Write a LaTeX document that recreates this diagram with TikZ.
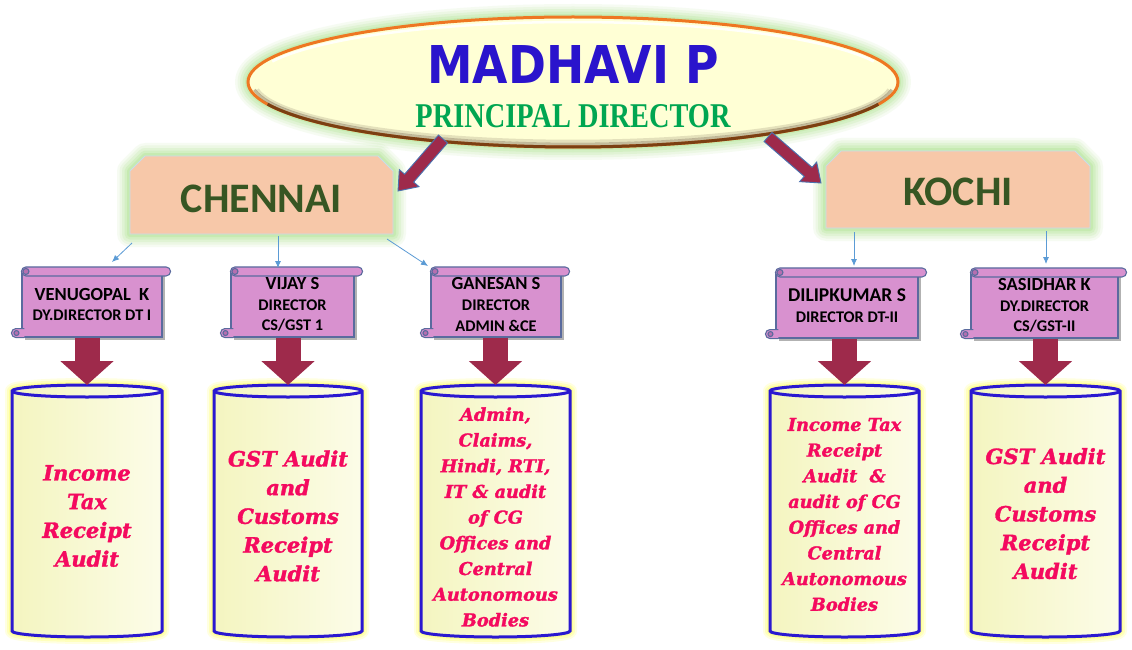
\documentclass[tikz,border=0pt]{standalone}
\usepackage{fontspec}
\setmainfont{Liberation Serif}
\newfontfamily\carl{Carlito}
\newfontfamily\dvs{DejaVu Sans}
\newfontfamily\dvserif[BoldItalicFeatures={FakeBold=1.6}]{DejaVu Serif}
\usetikzlibrary{shapes.geometric,shapes.misc,arrows.meta,calc}
\definecolor{maroonA}{HTML}{9E2A4B}
\definecolor{arrline}{HTML}{4A72B0}
\definecolor{scrollpink}{HTML}{D891CF}
\definecolor{curlpink}{HTML}{B56FB0}
\definecolor{scrollline}{HTML}{5A6B9E}
\definecolor{peach}{HTML}{F7C8A9}
\definecolor{dkgreen}{HTML}{375623}
\definecolor{mblue}{HTML}{2A14CC}
\definecolor{pgreen}{HTML}{00A651}
\definecolor{cylblue}{HTML}{2A18D0}
\definecolor{cylA}{HTML}{F4F5C0}
\definecolor{cylB}{HTML}{FCFCE8}
\definecolor{pinktext}{HTML}{F40A5F}
\definecolor{ellfill}{HTML}{FFFFD5}
\definecolor{ellorange}{HTML}{EE7722}
\definecolor{ellbrown}{HTML}{7B3F12}
\definecolor{bevel}{HTML}{7A6A55}
\definecolor{glowgreen}{HTML}{B8E69C}
\definecolor{glowyellow}{HTML}{FFFF6A}
\definecolor{thinblue}{HTML}{5B9BD5}
\definecolor{boxline}{HTML}{C9DCEB}
\newcommand\fatarrow[2]{%
  \path (#1); \pgfgetlastxy{\fxa}{\fya}%
  \path (#2); \pgfgetlastxy{\fxb}{\fyb}%
  \pgfmathsetmacro\fang{atan2(\fyb-\fya,\fxb-\fxa)}%
  \pgfmathsetmacro\flen{veclen(\fxb-\fxa,\fyb-\fya)}%
  \pgfmathsetmacro\fhb{\flen-17}%
  \begin{scope}[shift={(#1)},rotate=\fang]
    \draw[fatarr] (0pt,-6pt) -- (\fhb pt,-6pt) -- (\fhb pt,-13pt) -- (\flen pt,0pt)
      -- (\fhb pt,13pt) -- (\fhb pt,6pt) -- (0pt,6pt) -- cycle;
  \end{scope}}
\newcommand\scrolldeco[1]{%
  \draw[scrollshape, rounded corners=4.5pt] ($(#1.north west)+(0,-4.5)$) rectangle ($(#1.north east)+(8,4.5)$);
  \draw[scrollshape, fill=curlpink] ($(#1.north west)+(4.5,0)$) circle[radius=3pt];
  \draw[scrollshape] ($(#1.south west)+(3,0)$) -- ($(#1.south west)+(-5.5,0)$)
     arc[start angle=270,end angle=90,radius=4.5pt] -- ($(#1.south west)+(3,-9)$);
  \draw[scrollshape, fill=curlpink] ($(#1.south west)+(-5,-4.5)$) circle[radius=2.5pt];}
\newcommand\cylshape[3]{%
  \pgfmathsetmacro\crx{(#3-#2)/2}%
  \path[cylbody] (#2,391) -- (#2,631) arc[start angle=180,end angle=360,x radius=\crx pt,y radius=6pt]
     -- (#3,391) arc[start angle=0,end angle=180,x radius=\crx pt,y radius=6pt] -- cycle;
  \draw[cylblue, line width=3pt] (#2,391) arc[start angle=180,end angle=360,x radius=\crx pt,y radius=6pt];
  \coordinate (#1) at ({(#2+#3)/2},385);}
\begin{document}
\begin{tikzpicture}[x=1pt,y=-1pt,
  fatarr/.style={fill=maroonA, draw=arrline, line width=0.9pt, line join=miter},
  bigdown/.style={draw=maroonA, line width=25pt, -{Triangle[length=24pt,width=52pt]}},
  thinarr/.style={draw=thinblue, line width=0.8pt, -{Latex[length=7pt,width=6pt]}},
  glowG/.style={preaction={draw=glowgreen, line width=26pt, opacity=0.12, line join=round},
                preaction={draw=glowgreen, line width=21pt, opacity=0.16, line join=round},
                preaction={draw=glowgreen, line width=16pt, opacity=0.22, line join=round},
                preaction={draw=glowgreen, line width=11pt, opacity=0.3, line join=round},
                preaction={draw=glowgreen, line width=6pt, opacity=0.45, line join=round}},
  glowY/.style={preaction={draw=glowyellow, line width=14pt, opacity=0.2, line join=round},
                preaction={draw=glowyellow, line width=10pt, opacity=0.3, line join=round},
                preaction={draw=glowyellow, line width=6pt, opacity=0.45, line join=round}},
  pdell/.style={ellipse, minimum width=650pt, minimum height=130pt, inner sep=0pt,
                fill=ellfill, draw=ellorange, line width=3pt, glowG},
  citybox/.style={chamfered rectangle, chamfered rectangle corners={north west,north east},
                chamfered rectangle xsep=12pt, chamfered rectangle angle=45,
                inner sep=0pt, fill=peach, draw=boxline, line width=0.8pt, glowG,
                text=dkgreen, font=\carl\bfseries\fontsize{42}{42}\selectfont},
  scrollbody/.style={rectangle, inner sep=0pt, fill=scrollpink, draw=scrollline, line width=1.1pt,
                preaction={fill=black, opacity=0.3, transform canvas={shift={(2.5pt,-2.5pt)}}},
                align=center, text=black, font=\carl\bfseries\fontsize{16.3}{20.7}\selectfont},
  scrollshape/.style={fill=scrollpink, draw=scrollline, line width=1.1pt},
  cylbody/.style={glowY, left color=cylA, right color=cylB, draw=cylblue, line width=3pt},
  cyltextL/.style={align=center, text=pinktext, font=\dvserif\bfseries\itshape\fontsize{21}{28.7}\selectfont},
  cyltextS/.style={align=center, text=pinktext, font=\dvserif\bfseries\itshape\fontsize{17.7}{25.7}\selectfont}
]
\useasboundingbox (0,0) rectangle (1132,650);
\fill[white] (0,0) rectangle (1132,650);

% ---- top ellipse
\node[pdell] (pd) at (573,82) {};
\draw[bevel, line width=3pt, opacity=0.45] (pd.center) ++(-318.5pt,-7.7pt) arc[start angle=187,end angle=353,x radius=321pt,y radius=62pt];
\draw[bevel, line width=3pt, opacity=0.2] (pd.center) ++(-315.5pt,-7.4pt) arc[start angle=187,end angle=353,x radius=318pt,y radius=59pt];
\draw[ellbrown, line width=3pt] (pd.center) ++(-305.4pt,-22.2pt) arc[start angle=200,end angle=340,x radius=325pt,y radius=65pt];
\draw[white, line width=2.5pt, opacity=0.9] (pd.center) ++(-300.7pt,20.5pt) arc[start angle=160,end angle=20,x radius=320pt,y radius=60pt];
\node[text=mblue, inner sep=0pt] (nm) at (573,64.5) {\resizebox{291pt}{38pt}{\dvs\bfseries MADHAVI P}};
\node[text=pgreen, inner sep=0pt] (ttl) at (573,116) {\resizebox{315pt}{23pt}{\bfseries PRINCIPAL DIRECTOR}};

% ---- city boxes
\node[citybox, minimum width=263pt, minimum height=78pt, text height=35.7pt, text depth=0pt] (che) at (261.5,195) {CHENNAI};
\node[citybox, minimum width=264pt, minimum height=77pt, text height=32.7pt, text depth=0pt] (koc) at (958,189.5) {KOCHI};

\coordinate (a1s) at (443,139); \coordinate (a1e) at (398,191);
\coordinate (a2s) at (768,137); \coordinate (a2e) at (821,183);
\fatarrow{a1s}{a1e}
\fatarrow{a2s}{a2e}

% ---- scrolls
\node[scrollbody, minimum width=140pt, minimum height=65pt] (ven) at (92,304.5)
  {{\fontsize{18.5}{20.7}\selectfont VENUGOPAL~~K}\\DY.DIRECTOR DT I};
\node[scrollbody, minimum width=123pt, minimum height=65pt] (vij) at (292.5,304.5)
  {{\fontsize{18.5}{20.7}\selectfont VIJAY S}\\DIRECTOR\\CS/GST 1};
\node[scrollbody, minimum width=130pt, minimum height=65pt] (gan) at (496,304.5)
  {{\fontsize{18.5}{20.7}\selectfont GANESAN S}\\DIRECTOR\\ADMIN \&CE};
\node[scrollbody, minimum width=142pt, minimum height=65pt] (dil) at (847,305.5)
  {{\fontsize{19.5}{20.7}\selectfont DILIPKUMAR S}\\DIRECTOR DT-II};
\node[scrollbody, minimum width=147pt, minimum height=65pt] (sas) at (1044.5,305.5)
  {{\fontsize{18.5}{20.7}\selectfont SASIDHAR K}\\DY.DIRECTOR\\CS/GST-II};
\scrolldeco{ven}
\scrolldeco{vij}
\scrolldeco{gan}
\scrolldeco{dil}
\scrolldeco{sas}

% ---- thin arrows
\coordinate (t1s) at (132,243); \coordinate (t1e) at (112,262);
\coordinate (t2s) at (278,236); \coordinate (t2e) at (278,268);
\coordinate (t3s) at (387,239); \coordinate (t3e) at (428,266);
\coordinate (t4s) at (854,232); \coordinate (t4e) at (854,266);
\coordinate (t5s) at (1046,231); \coordinate (t5e) at (1046,264);
\draw[thinarr] (t1s) -- (t1e);
\draw[thinarr] (t2s) -- (t2e);
\draw[thinarr] (t3s) -- (t3e);
\draw[thinarr] (t4s) -- (t4e);
\draw[thinarr] (t5s) -- (t5e);

% ---- cylinders
\cylshape{c1}{12}{162}
\cylshape{c2}{214}{362}
\cylshape{c3}{421}{570}
\cylshape{c4}{770}{919}
\cylshape{c5}{971}{1120}

\draw[bigdown] (c1 |- ven.south) -- (c1);
\draw[bigdown] (c2 |- vij.south) -- (c2);
\draw[bigdown] (c3 |- gan.south) -- (c3);
\draw[bigdown] (c4 |- dil.south) -- (c4);
\draw[bigdown] (c5 |- sas.south) -- (c5);

\node[cyltextL] (x1) at (87,516) {Income\\Tax\\Receipt\\Audit};
\node[cyltextL] (x2) at (288,516) {GST Audit\\and\\Customs\\Receipt\\Audit};
\node[cyltextS] (x3) at (495.5,517) {Admin,\\Claims,\\Hindi, RTI,\\IT \& audit\\of CG\\Offices and\\Central\\Autonomous\\Bodies};
\node[cyltextS] (x4) at (844.5,514.5) {Income Tax\\Receipt\\Audit~~\&\\audit of CG\\Offices and\\Central\\Autonomous\\Bodies};
\node[cyltextL] (x5) at (1045.5,513.6) {GST Audit\\and\\Customs\\Receipt\\Audit};
\end{tikzpicture}
\end{document}
